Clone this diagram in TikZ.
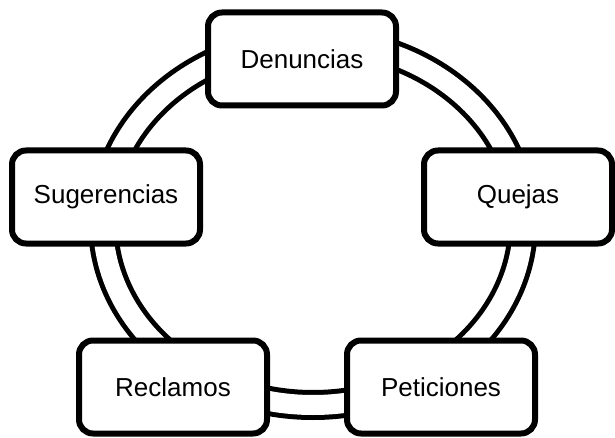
\documentclass[tikz,border=0pt]{standalone}
\usepackage{fontspec}
\setmainfont{Liberation Sans}
\begin{document}
\begin{tikzpicture}[x=1pt,y=-1pt,
  stagebox/.style={draw=black, line width=6pt, fill=white, rounded corners=14pt,
    minimum width=188pt, minimum height=93pt, inner sep=0pt,
    font=\fontsize{26}{30}\selectfont},
  ringline/.style={draw=black, line width=5pt, double=white, double distance=20pt}]
\useasboundingbox (0,0) rectangle (615,438);
\draw[ringline] (313,223) ellipse [x radius=210pt, y radius=182pt];
\node[stagebox] (den) at (302,59) {Denuncias};
\node[stagebox] (que) at (518,197) {Quejas};
\node[stagebox] (pet) at (441,387) {Peticiones};
\node[stagebox] (rec) at (173,387) {Reclamos};
\node[stagebox] (sug) at (106,197) {Sugerencias};
\end{tikzpicture}
\end{document}
